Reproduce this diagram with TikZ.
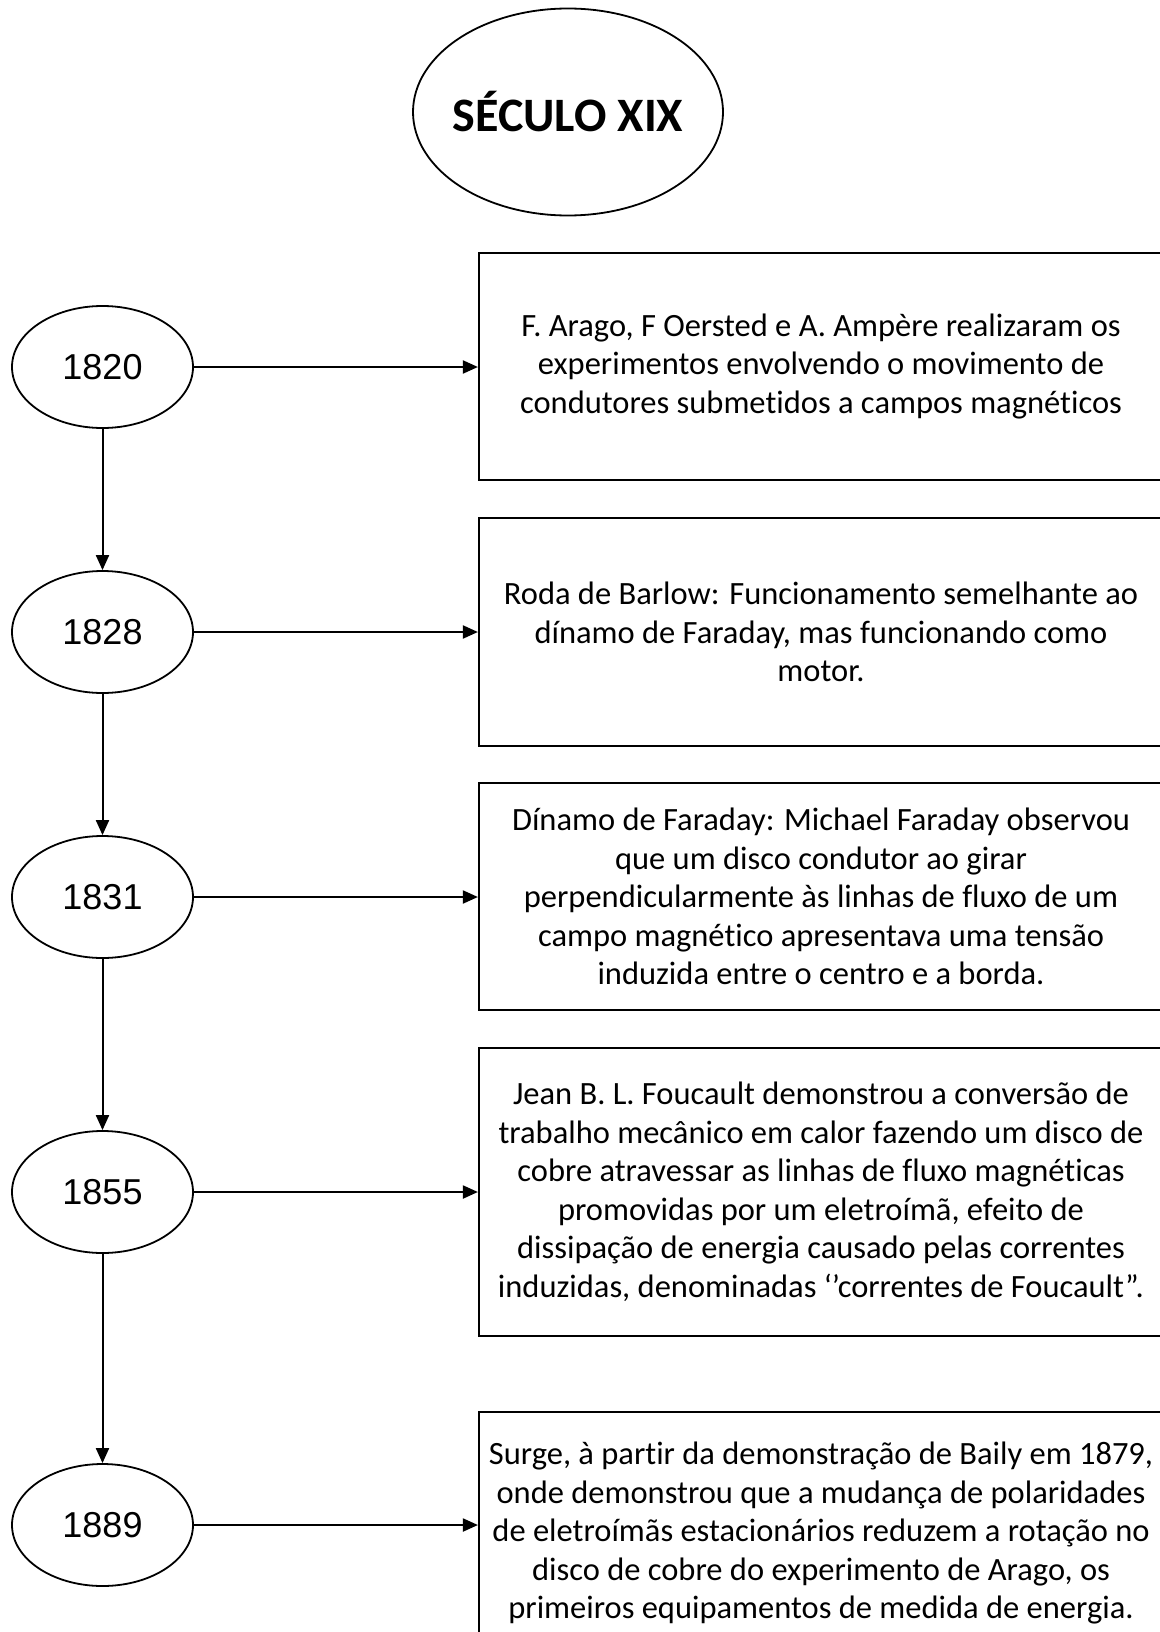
\documentclass[tikz,border=0pt]{standalone}
\usepackage{fontspec}
\setmainfont{Carlito}[Ligatures={NoCommon}]
\newfontfamily\yearfont{Liberation Sans}
\usetikzlibrary{shapes.geometric,arrows.meta}
\begin{document}
\begin{tikzpicture}[x=0.5pt,y=-0.5pt,
  yearnode/.style={ellipse,draw,line width=0.9pt,minimum width=90.5pt,minimum height=61pt,inner sep=0pt,
    font=\yearfont\fontsize{18}{21}\selectfont},
  infobox/.style={rectangle,draw,line width=1.1pt,minimum width=342pt,inner sep=0pt,align=center,
    font=\fontsize{16.25}{19.25}\selectfont},
  conn/.style={line width=1pt,-{Triangle[length=7.5pt,width=6.5pt]}}]
\useasboundingbox (0,0) rectangle (1160,1632);
\clip (0,0) rectangle (1160,1632);
\fill[white] (0,0) rectangle (1160,1632);

\node[ellipse,draw,line width=0.9pt,minimum width=155pt,minimum height=103.5pt,inner sep=0pt,
  font=\bfseries\fontsize{24}{29}\selectfont] (title) at (568,112) {\makebox[0pt]{SÉCULO XIX}};

\node[yearnode] (e1) at (102.5,367) {1820};
\node[yearnode] (e2) at (102.5,632) {1828};
\node[yearnode] (e3) at (102.5,897) {1831};
\node[yearnode] (e4) at (102.5,1192) {1855};
\node[yearnode] (e5) at (102.5,1525) {1889};

\node[infobox,minimum height=113.5pt] (b1) at (821,366.5) {F. Arago, F Oersted e A. Ampère realizaram os\\experimentos envolvendo o movimento de\\condutores submetidos a campos magnéticos};
\node[infobox,minimum height=114pt] (b2) at (821,632) {Roda de Barlow: Funcionamento semelhante ao\\dínamo de Faraday, mas funcionando como\\motor.};
\node[infobox,minimum height=113.5pt] (b3) at (821,896.5) {Dínamo de Faraday: Michael Faraday observou\\que um disco condutor ao girar\\perpendicularmente às linhas de fluxo de um\\campo magnético apresentava uma tensão\\induzida entre o centro e a borda.};
\node[infobox,minimum height=144pt] (b4) at (821,1192) {Jean B. L. Foucault demonstrou a conversão de\\trabalho mecânico em calor fazendo um disco de\\cobre atravessar as linhas de fluxo magnéticas\\promovidas por um eletroímã, efeito de\\dissipação de energia causado pelas correntes\\induzidas, denominadas ‘’correntes de Foucault”.};
\node[infobox,minimum height=121pt] (b5) at (821,1533) {Surge, à partir da demonstração de Baily em 1879,\\onde demonstrou que a mudança de polaridades\\de eletroímãs estacionários reduzem a rotação no\\disco de cobre do experimento de Arago, os\\primeiros equipamentos de medida de energia.};

\draw[conn] (e1.east) -- (e1.east -| b1.west);
\draw[conn] (e2.east) -- (e2.east -| b2.west);
\draw[conn] (e3.east) -- (e3.east -| b3.west);
\draw[conn] (e4.east) -- (e4.east -| b4.west);
\draw[conn] (e5.east) -- (e5.east -| b5.west);

\draw[conn] (e1.south) -- (e2.north);
\draw[conn] (e2.south) -- (e3.north);
\draw[conn] (e3.south) -- (e4.north);
\draw[conn] (e4.south) -- (e5.north);
\end{tikzpicture}
\end{document}
